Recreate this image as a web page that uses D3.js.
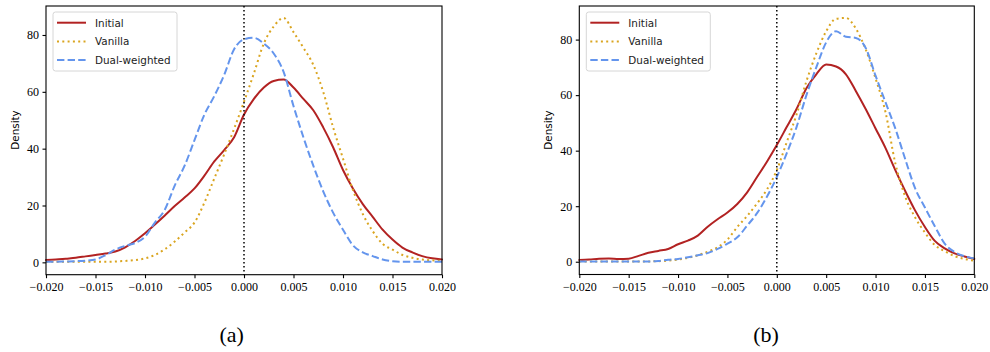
<!DOCTYPE html>
<html><head><meta charset="utf-8">
<script src="https://cdn.jsdelivr.net/npm/d3@7"></script>
<style>body{margin:0;background:#fff}svg{display:block}</style>
</head><body>
<svg id="c" width="990" height="352"></svg>
<script>
// ---- data ----
const xs = [-0.020,-0.019,-0.018,-0.017,-0.016,-0.015,-0.014,-0.013,-0.012,-0.011,-0.010,
            -0.009,-0.008,-0.007,-0.006,-0.005,-0.004,-0.003,-0.002,-0.001,0.000,
            0.001,0.002,0.003,0.004,0.005,0.006,0.007,0.008,0.009,0.010,
            0.011,0.012,0.013,0.014,0.015,0.016,0.017,0.018,0.019,0.020];
const seriesNames = ["Initial","Vanilla","Dual-weighted"];

const aInitial = [0.8,1.0,1.3,1.6,2.1,2.6,3.1,3.8,5.3,7.5,10.2,
                  13.3,16.5,19.8,22.8,26.0,30.5,35.5,39.5,44.0,52.0,
                  57.5,61.5,63.8,64.3,61.5,57.5,53.5,47.5,40.5,32.5,
                  26.0,20.5,16.0,11.5,8.0,5.2,3.5,2.2,1.4,1.0];
const aVanilla = [0.2,0.2,0.2,0.2,0.2,0.2,0.2,0.3,0.5,0.8,1.4,
                  2.6,4.6,7.3,10.5,14.0,21.0,29.5,38.0,47.0,56.5,
                  66.5,77.0,83.0,86.0,81.0,75.5,69.5,60.0,47.5,36.5,
                  25.5,17.0,11.0,6.5,4.5,2.6,1.6,1.0,0.7,0.5];
const aDual    = [0.2,0.2,0.3,0.4,0.6,1.0,2.5,4.5,5.8,6.8,9.0,
                  14.0,18.5,27.0,34.0,43.0,52.0,58.5,66.0,75.0,78.5,
                  79.0,77.0,73.5,67.0,55.0,44.0,34.0,25.0,17.5,11.5,
                  6.0,3.5,2.2,1.0,0.4,0.2,0.2,0.2,0.2,0.2];

const bInitial = [0.6,0.8,1.1,1.2,1.0,1.1,2.1,3.2,3.9,4.6,6.3,
                  7.6,9.4,12.6,15.3,17.7,20.8,25.0,30.5,36.0,42.0,
                  48.5,55.0,62.5,67.5,71.0,70.3,67.5,61.5,55.0,48.0,
                  41.0,33.0,25.5,18.5,12.5,7.5,4.8,3.0,1.9,1.0];
const bVanilla = [0.1,0.1,0.1,0.1,0.1,0.1,0.1,0.1,0.2,0.4,0.8,
                  1.4,2.3,3.6,5.2,8.0,12.5,16.5,21.0,26.0,33.0,
                  43.0,53.0,65.0,75.0,83.0,87.5,87.8,84.0,76.5,66.0,
                  54.0,35.5,23.5,16.0,10.5,6.0,3.8,2.0,1.0,0.4];
const bDual    = [0.1,0.1,0.1,0.1,0.1,0.1,0.1,0.1,0.3,0.7,1.0,
                  1.6,2.3,3.1,4.6,6.5,8.8,13.0,17.5,23.4,30.5,
                  39.0,48.5,60.0,70.0,79.0,83.0,81.0,80.6,77.0,67.0,
                  57.5,48.0,37.0,26.5,19.5,12.8,6.5,3.5,2.0,1.2];

const xTicks = [-0.020,-0.015,-0.010,-0.005,0.000,0.005,0.010,0.015,0.020];
const xTickLabels = ["\u22120.020","\u22120.015","\u22120.010","\u22120.005","0.000","0.005","0.010","0.015","0.020"];
const yTicks = [0,20,40,60,80];
const yTickLabels = ["0","20","40","60","80"];
const captions = ["(a)","(b)"];

// ---- styles ----
const colors = ["#b22222","#daa520","#6495ed"];
const dashes = [null,"2,3.3","7.4,3.2"];
const caps = ["round","butt","butt"];

const svg = d3.select("#c");
svg.append("rect").attr("width",990).attr("height",352).attr("fill","#fff");

const panels = [
  {left:46, right:442, top:6, bottom:274.7, ydom:[-4.35,90.2], data:[aInitial,aVanilla,aDual], cap:captions[0], capX:231.7},
  {left:579.3, right:974.3, top:6, bottom:274.5, ydom:[-4.6,92.1], data:[bInitial,bVanilla,bDual], cap:captions[1], capX:766}
];

const serif = "Liberation Serif, Times New Roman, serif";
const sans = "DejaVu Sans, sans-serif";

panels.forEach(p => {
  const x = d3.scaleLinear().domain([-0.02,0.02]).range([p.left,p.right]);
  const y = d3.scaleLinear().domain(p.ydom).range([p.bottom,p.top]);
  const g = svg.append("g");

  // curves
  p.data.forEach((vals,i) => {
    const line = d3.line().x((d,j)=>x(xs[j])).y(d=>y(d)).curve(d3.curveMonotoneX);
    g.append("path").attr("d",line(vals)).attr("fill","none")
      .attr("stroke",colors[i]).attr("stroke-width",2)
      .attr("stroke-dasharray",dashes[i]).attr("stroke-linecap",caps[i])
      .attr("stroke-linejoin","round");
  });

  // zero line
  g.append("line").attr("x1",x(0)).attr("x2",x(0)).attr("y1",p.top).attr("y2",p.bottom)
    .attr("stroke","#000").attr("stroke-width",1.5).attr("stroke-dasharray","1.5,2.5");

  // frame
  g.append("rect").attr("x",p.left).attr("y",p.top).attr("width",p.right-p.left).attr("height",p.bottom-p.top)
    .attr("fill","none").attr("stroke","#000").attr("stroke-width",1.1);

  // axes
  const ax = g.append("g").attr("transform",`translate(0,${p.bottom})`)
    .call(d3.axisBottom(x).tickValues(xTicks).tickSize(3.5).tickPadding(4)
      .tickFormat((d,i)=>xTickLabels[i]));
  const ay = g.append("g").attr("transform",`translate(${p.left},0)`)
    .call(d3.axisLeft(y).tickValues(yTicks).tickSize(3.5).tickPadding(3.5)
      .tickFormat((d,i)=>yTickLabels[i]));
  [ax,ay].forEach(a => {
    a.attr("font-family",serif).attr("font-size",12);
    a.select(".domain").remove();
    a.selectAll(".tick line").attr("stroke","#000").attr("stroke-width",1.1);
    a.selectAll(".tick text").attr("fill","#000").attr("font-family",serif).attr("font-size",12);
  });

  // y label
  g.append("text").attr("transform",`translate(${p.left-27.5},130) rotate(-90)`)
    .attr("text-anchor","middle").attr("font-family",sans).attr("font-size",10.4)
    .attr("fill","#000").text("Density");

  // legend
  const lg = g.append("g");
  lg.append("rect").attr("x",p.left+7).attr("y",12).attr("width",124).attr("height",59)
    .attr("rx",2.5).attr("fill","#fff").attr("fill-opacity",0.8).attr("stroke","#d6d6d6").attr("stroke-width",1);
  seriesNames.forEach((n,i) => {
    const yy = 22.7 + i*18.7;
    lg.append("line").attr("x1",p.left+11).attr("x2",p.left+40).attr("y1",yy).attr("y2",yy)
      .attr("stroke",colors[i]).attr("stroke-width",2)
      .attr("stroke-dasharray",dashes[i]).attr("stroke-linecap",caps[i]==="round"?"butt":caps[i]);
    lg.append("text").attr("x",p.left+49).attr("y",yy+3.8)
      .attr("font-family",sans).attr("font-size",10.4).attr("fill","#222").text(n);
  });

  // caption
  svg.append("text").attr("x",p.capX).attr("y",342).attr("text-anchor","middle")
    .attr("font-family",serif).attr("font-size",22).attr("fill","#000").text(p.cap);
});
</script>
</body></html>
